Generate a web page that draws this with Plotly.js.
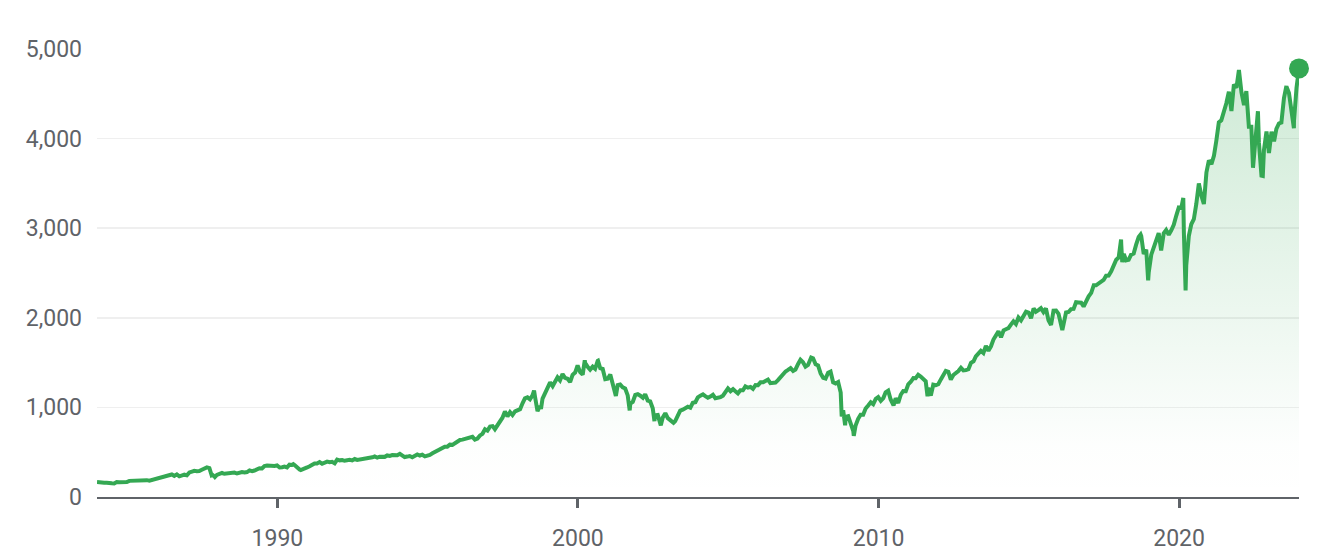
<!DOCTYPE html>
<html>
<head>
<meta charset="utf-8">
<script src="https://cdn.plot.ly/plotly-3.0.1.min.js"></script>
<style>
  html, body { margin: 0; padding: 0; background: #ffffff; }
  #chart { width: 1336px; height: 556px; }
</style>
</head>
<body>
<div id="chart"></div>
<script>
// Monthly closing values (one row per year, Jan..Dec)
const years = [];
for (let y = 1984; y <= 2023; y++) years.push(y);

const closes1980s = [
  163, 157, 159, 160, 151, 153, 151, 167, 166, 166, 163, 167,
  180, 181, 181, 180, 190, 192, 191, 188, 182, 190, 202, 211,
  212, 227, 238, 235, 247, 251, 236, 253, 231, 244, 249, 242,
  274, 284, 292, 288, 290, 304, 319, 330, 322, 252, 230, 247,
  257, 268, 259, 261, 262, 274, 272, 262, 272, 279, 274, 278,
  297, 289, 295, 310, 321, 318, 346, 351, 349, 340, 346, 353
];
const closes1990s = [
  329, 332, 340, 331, 361, 358, 356, 323, 306, 304, 322, 330,
  344, 367, 375, 375, 390, 371, 388, 395, 388, 392, 375, 417,
  409, 413, 404, 415, 415, 408, 424, 414, 418, 419, 431, 436,
  439, 443, 452, 440, 450, 451, 448, 464, 459, 468, 462, 466,
  482, 467, 446, 451, 457, 444, 458, 475, 463, 472, 454, 459,
  470, 487, 501, 515, 533, 545, 562, 562, 584, 582, 605, 616,
  636, 640, 646, 654, 669, 671, 640, 652, 687, 705, 757, 741,
  786, 791, 757, 801, 848, 885, 954, 899, 947, 915, 955, 970,
  980, 1049, 1102, 1112, 1091, 1134, 1121, 957, 1017, 1099, 1164, 1229,
  1280, 1238, 1286, 1335, 1302, 1373, 1329, 1320, 1283, 1363, 1389, 1469
];
const closes2000s = [
  1394, 1366, 1499, 1452, 1421, 1455, 1431, 1518, 1437, 1429, 1315, 1320,
  1366, 1240, 1160, 1249, 1256, 1224, 1211, 1134, 1041, 1060, 1139, 1148,
  1130, 1107, 1147, 1076, 1067, 990, 912, 916, 815, 886, 936, 880,
  856, 841, 848, 917, 964, 975, 990, 1008, 996, 1051, 1058, 1112,
  1131, 1145, 1126, 1107, 1121, 1141, 1102, 1104, 1115, 1130, 1174, 1212,
  1181, 1204, 1181, 1157, 1192, 1191, 1234, 1220, 1229, 1207, 1249, 1248,
  1280, 1281, 1295, 1311, 1270, 1270, 1277, 1304, 1336, 1378, 1401, 1418,
  1438, 1407, 1421, 1482, 1531, 1503, 1455, 1474, 1527, 1549, 1481, 1468,
  1379, 1331, 1323, 1386, 1400, 1280, 1267, 1283, 1165, 969, 896, 903,
  826, 735, 798, 873, 919, 919, 987, 1021, 1057, 1036, 1096, 1115
];
const closes2010s = [
  1074, 1104, 1169, 1187, 1089, 1031, 1102, 1049, 1141, 1183, 1181, 1258,
  1286, 1327, 1326, 1364, 1345, 1321, 1292, 1219, 1131, 1253, 1247, 1258,
  1312, 1366, 1408, 1398, 1310, 1362, 1379, 1406, 1441, 1412, 1416, 1426,
  1498, 1515, 1569, 1598, 1631, 1606, 1686, 1633, 1682, 1757, 1806, 1848,
  1783, 1859, 1872, 1884, 1924, 1960, 1931, 2003, 1972, 2018, 2068, 2059,
  1995, 2105, 2068, 2086, 2107, 2063, 2104, 1972, 1920, 2079, 2080, 2044,
  1940, 1932, 2060, 2065, 2097, 2099, 2174, 2171, 2168, 2126, 2199, 2239,
  2279, 2364, 2363, 2384, 2412, 2423, 2470, 2472, 2519, 2575, 2648, 2674,
  2824, 2714, 2641, 2648, 2705, 2718, 2816, 2902, 2914, 2712, 2760, 2507,
  2704, 2784, 2834, 2946, 2752, 2942, 2980, 2926, 2977, 3038, 3141, 3231
];
const closes2020s = [
  3226, 2954, 2585, 2912, 3044, 3100, 3271, 3500, 3363, 3270, 3622, 3756,
  3714, 3811, 3973, 4181, 4204, 4298, 4395, 4523, 4308, 4605, 4567, 4766,
  4516, 4374, 4530, 4132, 4132, 3785, 4130, 3955, 3586, 3872, 4080, 3840,
  4077, 3970, 4109, 4169, 4180, 4450, 4589, 4508, 4288, 4194, 4568, 4783
];

// Intra-month weekly extremes visible in the chart
const extraDates = [
  '1984-01-01', '1987-08-21', '1987-10-23', '1987-12-04', '1990-07-13', '1990-10-12',
  '1998-07-17', '1998-09-04', '1998-10-09', '2000-03-24', '2000-09-01', '2001-04-06',
  '2001-09-21', '2002-07-19', '2002-10-04', '2003-03-07', '2007-10-05', '2008-10-10',
  '2008-11-21', '2009-03-06', '2010-07-02', '2011-08-19', '2016-02-12', '2018-01-26',
  '2018-02-09', '2018-09-21', '2018-12-21', '2020-02-21', '2020-03-20', '2022-06-17',
  '2022-08-16', '2022-10-14', '2023-07-28', '2023-10-27'
];
const extraValues = [
  168, 335, 248, 223, 367, 300,
  1187, 973, 984, 1527, 1520, 1128,
  966, 847, 800, 828, 1557, 899,
  800, 683, 1022, 1124, 1864, 2873,
  2620, 2930, 2417, 3338, 2305, 3675,
  4305, 3583, 4582, 4117
];

const yTickValues = [0, 1000, 2000, 3000, 4000, 5000];
const xTickYears = ['1990', '2000', '2010', '2020'];

// Build the series
const monthly = closes1980s.concat(closes1990s, closes2000s, closes2010s, closes2020s);
const pts = [];
years.forEach((yr, i) => {
  for (let m = 0; m < 12; m++) {
    const mm = String(m + 1).padStart(2, '0');
    pts.push([yr + '-' + mm + '-28', monthly[i * 12 + m]]);
  }
});
extraDates.forEach((d, i) => pts.push([d, extraValues[i]]));
pts.sort((a, b) => (a[0] < b[0] ? -1 : a[0] > b[0] ? 1 : 0));
const xs = pts.map(p => p[0]);
const ys = pts.map(p => p[1]);

const green = '#34a853';
const lineTrace = {
  x: xs, y: ys, type: 'scatter', mode: 'lines',
  line: { color: green, width: 4 },
  fill: 'tozeroy',
  fillgradient: {
    type: 'vertical',
    colorscale: [
      [0, 'rgba(52,168,83,0)'],
      [0.12, 'rgba(52,168,83,0.01)'],
      [1, 'rgba(52,168,83,0.24)']
    ]
  },
  hoverinfo: 'skip'
};
const endTrace = {
  x: [xs[xs.length - 1]], y: [ys[ys.length - 1]], type: 'scatter', mode: 'markers',
  marker: { color: green, size: 20 },
  cliponaxis: false, hoverinfo: 'skip'
};

const font = { family: 'Roboto, "Noto Sans", sans-serif', size: 23, color: '#5f6368' };

const layout = {
  width: 1336, height: 556,
  margin: { l: 97, r: 37, t: 49, b: 59 },
  paper_bgcolor: '#ffffff', plot_bgcolor: '#ffffff',
  showlegend: false,
  font: font,
  xaxis: {
    type: 'date',
    range: [xs[0], xs[xs.length - 1]],
    tickvals: xTickYears.map(y => y + '-01-01'),
    ticktext: xTickYears,
    showgrid: false, zeroline: false,
    showline: true, linecolor: '#5f6368', linewidth: 2,
    ticks: 'outside', ticklen: 9, tickwidth: 3, tickcolor: '#5f6368',
    ticklabelstandoff: 10,
    tickfont: font, fixedrange: true
  },
  yaxis: {
    range: [0, 5000],
    tickvals: yTickValues,
    tickformat: ',d',
    showgrid: true, gridcolor: '#efefef', gridwidth: 1.5,
    zeroline: false, showline: false, ticks: '',
    ticklabelstandoff: 14,
    tickfont: font, fixedrange: true
  }
};

Plotly.newPlot('chart', [lineTrace, endTrace], layout, { displayModeBar: false, staticPlot: true });
</script>
</body>
</html>
